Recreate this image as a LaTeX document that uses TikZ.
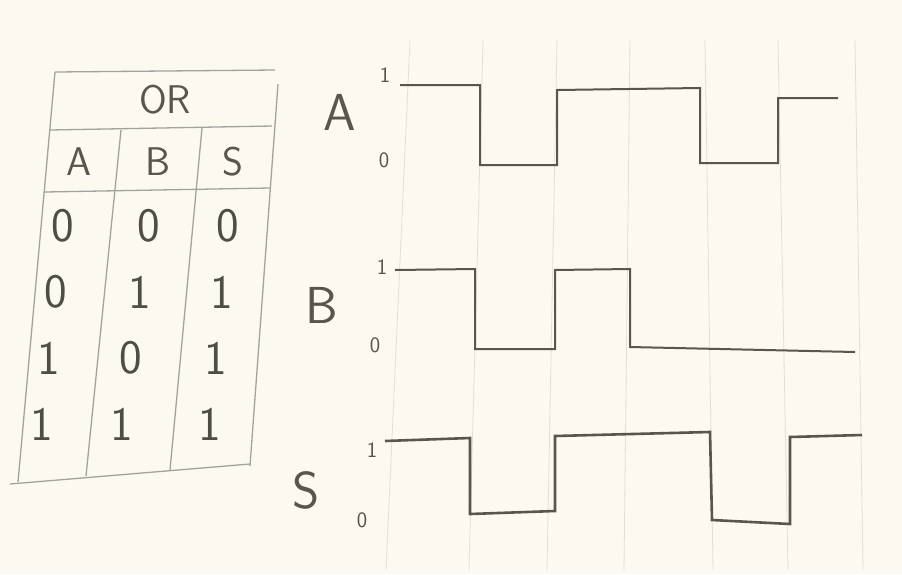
\documentclass[tikz,border=0pt]{standalone}
\usepackage{fontspec}
\definecolor{paper}{RGB}{251,249,240}
\definecolor{pencil}{RGB}{88,86,78}
\definecolor{gridline}{RGB}{226,223,211}
\begin{document}
\begin{tikzpicture}[x=1pt,y=-1pt,
  tab/.style={draw=pencil!55, line width=1.3pt},
  sig/.style={draw=pencil, line width=2pt, line join=miter},
  cell/.style={font=\fontsize{48}{48}\selectfont\sffamily, text=pencil!90!black},
  head/.style={font=\fontsize{40}{40}\selectfont\sffamily, text=pencil},
  signame/.style={font=\fontsize{52}{52}\selectfont\sffamily, text=pencil},
  level/.style={font=\fontsize{22}{22}\selectfont\sffamily, text=pencil}]
% paper
\fill[paper] (0,0) rectangle (902,574);
\useasboundingbox (0,0) rectangle (902,574);

% grid of the paper
\foreach \x/\d in {410/-24,483/-14,557/-10,630/-6,705/8,778/10,855/8}
  \draw[gridline, line width=0.8pt] (\x,40) -- ++(\d,530);

% --- TRUTH TABLE ---
% outline
  \draw[tab] (55,72) -- (275,70);
  \draw[tab] (55,72) -- (18,482);
  \draw[tab] (278,84) -- (250,466);
  \draw[tab] (10,484) -- (250,464);
% rows and columns
  \draw[tab] (50,130) -- (272,126);
  \draw[tab] (45,192) -- (270,188);
  \draw[tab] (121,130) -- (86,476);
  \draw[tab] (202,128) -- (170,470);

  \node[head] (gate) at (165,100) {OR};
  \node[head] (hA) at (79,162) {A};
  \node[head] (hB) at (158,162) {B};
  \node[head] (hS) at (233,162) {S};

\foreach \a/\b/\s [count=\r] in {0/0/0,0/1/1,1/0/1,1/1/1} {
    \node[cell] (a\r) at ({70-7*\r},{160+66*\r}) {\a};
    \node[cell] (b\r) at ({158-9*\r},{160+66*\r}) {\b};
    \node[cell] (s\r) at ({234-6*\r},{160+66*\r}) {\s};
  }

% --- TIMING ---
% labels
  \node[signame] (nA) at (340,112) {A};
  \node[signame] (nB) at (322,305) {B};
  \node[signame] (nS) at (306,490) {S};
  \node[level] (oneA) at (385,75) {1};
  \node[level] (zeroA) at (384,160) {0};
  \node[level] (oneB) at (382,267) {1};
  \node[level] (zeroB) at (375,345) {0};
  \node[level] (oneS) at (372,450) {1};
  \node[level] (zeroS) at (362,520) {0};

% signals
  \draw[sig] (400,85) -- (480,85) -- (480,165) -- (557,165) -- (557,90)
    -- (700,88) -- (700,163) -- (778,163) -- (778,98) -- (838,98);
  \draw[sig] (395,270) -- (475,269) -- (475,349) -- (555,349) -- (555,270)
    -- (630,269) -- (630,347) -- (855,352);
  \draw[sig, line width=2.6pt] (385,441) -- (470,438) -- (470,514) -- (555,511)
    -- (555,436) -- (710,432) -- (712,520) -- (790,524) -- (790,437) -- (862,435);
\end{tikzpicture}
\end{document}
